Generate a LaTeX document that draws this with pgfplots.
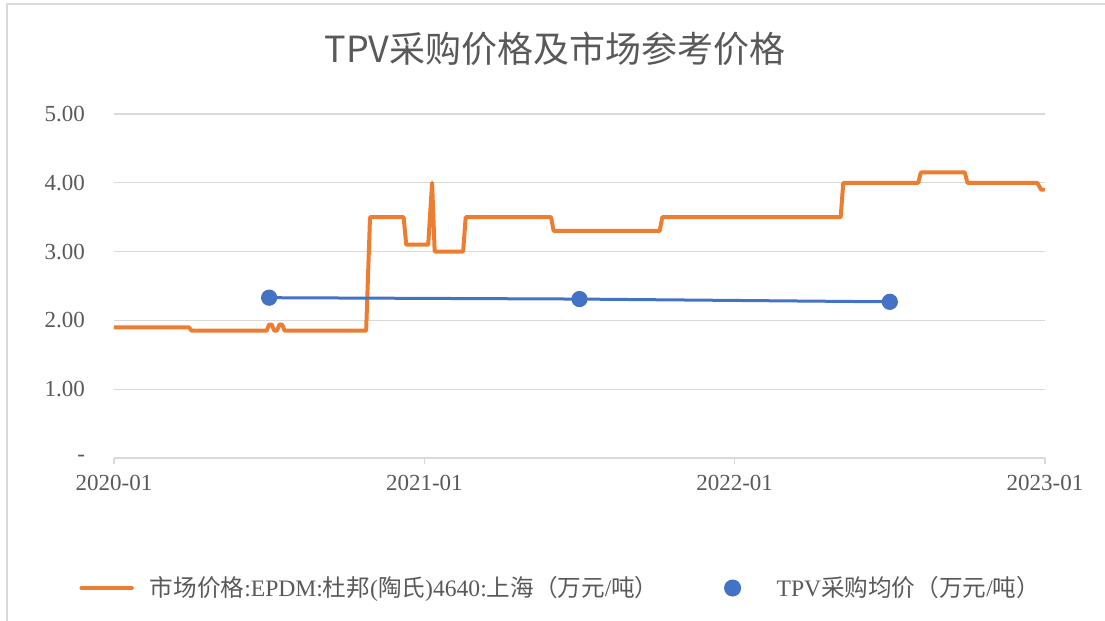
\documentclass[border=0pt]{standalone}
\usepackage{fontspec}
\setmainfont{Liberation Serif}
\newfontfamily\cjk{Noto Sans CJK SC}
\usepackage{pgfplots}
\pgfplotsset{compat=1.18}
\definecolor{orng}{HTML}{ED7D31}
\definecolor{blu}{HTML}{4472C4}
\definecolor{gridc}{HTML}{D9D9D9}
\definecolor{txt}{HTML}{595959}
\begin{document}
\begin{tikzpicture}
\useasboundingbox (0,0) rectangle (552.5pt,310.5pt);
\draw[gridc, line width=0.6pt] (3.5pt,0pt) -- (3.5pt,308.5pt) -- (552.5pt,308.5pt);
\node[text=txt, font=\cjk\fontsize{18}{20}\selectfont] at (277.5pt,286pt) {TPV采购价格及市场参考价格};
\begin{axis}[
  at={(57pt,81.5pt)}, anchor=south west,
  width=465.5pt, height=172pt, scale only axis,
  xmin=0, xmax=36, ymin=0, ymax=5,
  xtick={0,12,24,36},
  xticklabels={2020-01,2021-01,2022-01,2023-01},
  ytick={0,1,2,3,4,5},
  yticklabels={-,1.00,2.00,3.00,4.00,5.00},
  ymajorgrids, grid style={gridc, line width=0.6pt},
  axis x line*=bottom, axis y line*=left,
  x axis line style={gridc, line width=0.6pt, -},
  y axis line style={draw=none},
  tick align=outside,
  xtick style={gridc, line width=0.6pt},
  major tick length=3pt,
  ytick style={draw=none},
  tick label style={text=txt, font=\fontsize{11.5}{13}\selectfont},
  yticklabel style={xshift=-8pt},
  xticklabel style={yshift=-2pt},
  legend columns=2,
  legend style={at={(0.481,-0.378)}, anchor=center, draw=none, fill=none,
    font=\fontsize{11.8}{13}\selectfont, text=txt,
    /tikz/every odd column/.append style={column sep=6pt},
    /tikz/every even column/.append style={column sep=22pt}},
]
\addplot[orng, line width=2pt, line join=round, line cap=round,
  legend image code/.code={\draw[orng, line width=2.2pt, line cap=round] (1pt,0pt) -- (26pt,0pt); \path[draw=none] (0pt,0pt) -- (27pt,0pt);}]
coordinates {
(0,1.90) (2.9,1.90) (3.0,1.85) (5.9,1.85) (6.0,1.94) (6.1,1.94) (6.2,1.85)
(6.3,1.85) (6.4,1.94) (6.5,1.94) (6.6,1.85) (9.75,1.85) (9.9,3.5)
(11.2,3.5) (11.3,3.1) (12.15,3.1) (12.3,4.0) (12.4,3.0) (13.5,3.0) (13.6,3.5)
(16.9,3.5) (17.0,3.3) (21.1,3.3) (21.2,3.5) (28.1,3.5) (28.2,4.0)
(31.1,4.0) (31.2,4.15) (32.9,4.15) (33.0,4.0) (35.7,4.0) (35.85,3.9) (35.95,3.9)
};
\addlegendentry{{\cjk 市场价格}:EPDM:{\cjk 杜邦}({\cjk 陶氏})4640:{\cjk 上海（万元}/{\cjk 吨）}}
\addplot[blu, line width=1.5pt, mark=*, mark size=3.3pt, mark options={fill=blu, draw=blu},
  legend image code/.code={\fill[blu] (13pt,0pt) circle (3.5pt); \path[draw=none] (0pt,0pt) -- (27pt,0pt);}]
coordinates {(6,2.33) (18,2.31) (30,2.27)};
\addlegendentry{TPV{\cjk 采购均价（万元}/{\cjk 吨）}}
\end{axis}
\end{tikzpicture}
\end{document}
